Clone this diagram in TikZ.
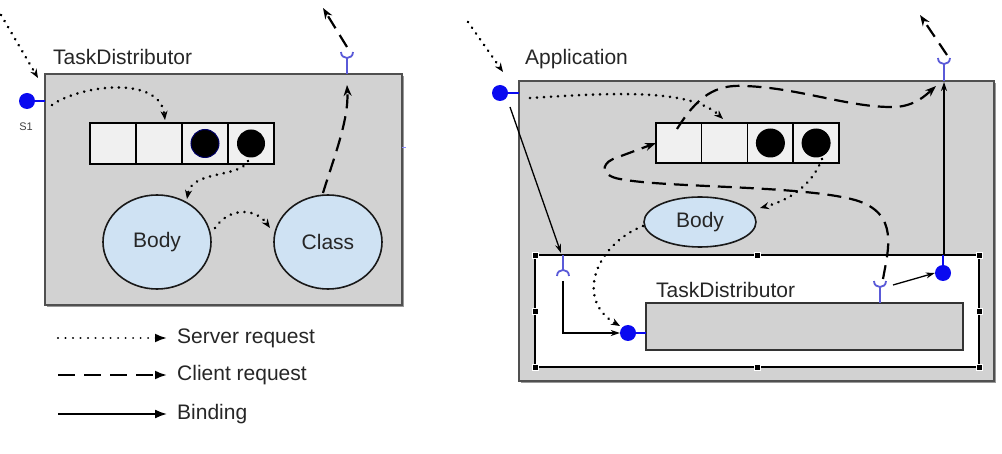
\documentclass[tikz,border=0pt]{standalone}
\usepackage{fontspec}
\setmainfont{Liberation Sans}
\usetikzlibrary{arrows.meta,shapes.geometric,calc}
\definecolor{boxgray}{HTML}{D2D2D2}
\definecolor{cellfill}{HTML}{F0F0F0}
\definecolor{bodyblue}{HTML}{CFE2F3}
\definecolor{portblue}{HTML}{0A0AF0}
\definecolor{cupblue}{HTML}{5A5AD8}
\definecolor{edgegray}{HTML}{505050}
\begin{document}
\begin{tikzpicture}[x=1pt,y=-1pt,
  lbl/.style={font=\fontsize{21}{25}\selectfont, text=black!85, inner sep=0pt},
  compbox/.style={rectangle, fill=boxgray, draw=edgegray, line width=1.3pt, inner sep=0pt, outer sep=0pt, anchor=north west},
  shadowbox/.style={fill=black!40, draw=none},
  cell/.style={rectangle, draw=black, line width=1.5pt, fill=cellfill, minimum width=46pt, minimum height=41pt, inner sep=0pt, outer sep=0pt},
  token/.style={circle, fill=black, minimum size=28pt, inner sep=0pt},
  actor/.style={ellipse, draw=black!90, line width=1.6pt, fill=bodyblue, inner sep=0pt, font=\fontsize{21}{25}\selectfont, text=black!85},
  srvport/.style={circle, fill=portblue, minimum size=16pt, inner sep=0pt},
  portstem/.style={draw=portblue, line width=2.2pt},
  cupline/.style={draw=cupblue, line width=1.8pt},
  handle/.style={rectangle, fill=black, draw=white, line width=0.6pt, minimum size=6pt, inner sep=0pt},
  srvreq/.style={line width=2.9pt, dash pattern=on 0.01pt off 7pt, line cap=round, -{Stealth[length=9pt,width=7pt,line cap=butt]}},
  clireq/.style={line width=2.2pt, dash pattern=on 14pt off 8pt, -{Stealth[length=11pt,width=8pt]}},
  bind/.style={line width=1.3pt, -{Stealth[length=9pt,width=6pt]}},
  legtip/.style={-{Latex[length=12pt,width=9pt]}},
]
\path[use as bounding box] (0,0) rectangle (1002,454);

% ================= LEFT: TaskDistributor =================
\fill[shadowbox] (47,76) rectangle (404,307);
\node[compbox, minimum width=357pt, minimum height=231pt] (td) at (45,74) {};
\node[lbl, anchor=west] (tdlbl) at (53,57) {TaskDistributor};
\draw[blue!45, line width=1pt] (402,148) -- (406,148);

\node[srvport] (s1) at (27,101) {};
\draw[portstem] (s1.east) -- (45,101);
\node[font=\fontsize{11}{12}\selectfont, text=black!75, inner sep=0pt] (s1lbl) at (26,127) {S1};

\node[cell] (q1) at (113,143.5) {};
\node[cell] (q2) at (159,143.5) {};
\node[cell] (q3) at (205,143.5) {};
\node[cell] (q4) at (251,143.5) {};
\node[token, draw=blue!40!black, line width=1pt] (t1) at (q3.center) {};
\node[token] (t2) at (q4.center) {};

\node[actor, minimum width=108pt, minimum height=94pt] (body) at (157,242) {Body};
\node[actor, minimum width=108pt, minimum height=94pt] (class) at (328,242) {Class};

% client port (cup)
\coordinate (cupL) at (347,58);
\draw[cupline] (341,52) .. controls (341,60) and (353,60) .. (353,52);
\draw[cupline] (cupL) -- (347,74);

\coordinate (inL) at (1,15);
\coordinate (inLend) at (38,78);
\draw[srvreq] (inL) -- (inLend);
\draw[srvreq] (52,105) .. controls (80,85) and (160,75) .. (165,120);
\draw[srvreq] (248,161) .. controls (240,178) and (192,170) .. (187,199);
\draw[srvreq] (215,228) .. controls (228,208) and (255,207) .. (270,228);
\draw[clireq] (323,193) .. controls (333,160) and (349,120) .. (347,85);
\coordinate (outL) at (323,8);
\draw[clireq] (347,47) -- (outL);

% ================= LEGEND =================
\coordinate (l1a) at (58,338); \coordinate (l1b) at (167,338);
\coordinate (l2a) at (58,375); \coordinate (l2b) at (167,375);
\coordinate (l3a) at (58,414); \coordinate (l3b) at (167,414);
\draw[line width=2.2pt, dash pattern=on 0.01pt off 7.5pt, line cap=round, legtip] (l1a) -- (l1b);
\draw[line width=2.2pt, dash pattern=on 17pt off 9pt, legtip] (l2a) -- (l2b);
\draw[line width=1.8pt, legtip] (l3a) -- (l3b);
\node[lbl, anchor=west] (leg1) at (177,338) {Server request};
\node[lbl, anchor=west] (leg2) at (177,375) {Client request};
\node[lbl, anchor=west] (leg3) at (177,414) {Binding};

% ================= RIGHT: Application =================
\fill[shadowbox] (521,83) rectangle (996,383);
\node[compbox, minimum width=475pt, minimum height=300pt] (app) at (519,81) {};
\node[lbl, anchor=west] (applbl) at (525,59) {Application};

\node[srvport] (ap) at (500,93) {};
\draw[portstem] (ap.east) -- (519,93);

\node[cell, minimum width=45.75pt, minimum height=40pt] (r1) at (678.9,143) {};
\node[cell, minimum width=45.75pt, minimum height=40pt] (r2) at (724.6,143) {};
\node[cell, minimum width=45.75pt, minimum height=40pt] (r3) at (770.4,143) {};
\node[cell, minimum width=45.75pt, minimum height=40pt] (r4) at (816.1,143) {};
\node[token, minimum size=29pt] (rt1) at (r3.center) {};
\node[token, minimum size=29pt] (rt2) at (r4.center) {};

\node[actor, minimum width=112pt, minimum height=50pt] (rbody) at (700,222) {Body};

% inner selected TaskDistributor
\node[rectangle, draw=black, line width=1.4pt, fill=white, anchor=north west, minimum width=444pt, minimum height=112pt, inner sep=0pt, outer sep=0pt] (frame) at (535,255) {};
\foreach \a in {north west,north,north east,west,east,south west,south,south east}
  \node[handle] at (frame.\a) {};
\node[compbox, draw=black!80, minimum width=317pt, minimum height=47pt] (itd) at (646,303) {};
\node[lbl, anchor=west] (itdlbl) at (656,290) {TaskDistributor};

\node[srvport] (isp) at (628,333) {};
\draw[portstem] (isp.east) -- (646,333);

% required port on frame (cap)
\coordinate (capR) at (563,270);
\draw[cupline] (557,276) .. controls (557,268) and (569,268) .. (569,276);
\draw[cupline] (capR) -- (563,255);

% inner client cup
\coordinate (icup) at (880,287);
\draw[cupline] (874,281) .. controls (874,289) and (886,289) .. (886,281);
\draw[cupline] (icup) -- (880,303);

% inner right server port
\node[srvport] (rsp) at (943,273) {};
\draw[portstem] (rsp.north) -- (943,255);

% app client cup
\coordinate (acup) at (944,64);
\draw[cupline] (938,58) .. controls (938,66) and (950,66) .. (950,58);
\draw[cupline] (acup) -- (944,81);

% bindings
\draw[bind] (510,107) -- (561,253);
\draw[bind] (563,281) |- (isp.west);
\draw[bind] (893,285) -- (rsp.west);
\draw[bind] (944,255) -- (944,82);

% server requests
\coordinate (inR) at (468,22);
\draw[srvreq] (inR) -- (503,72);
\draw[srvreq] (530,98) .. controls (610,93) and (690,88) .. (723,119);
\draw[srvreq] (822,159) .. controls (812,185) and (790,200) .. (760,208);
\draw[srvreq] (643,226) .. controls (595,245) and (575,300) .. (620,326);

% client requests
\draw[clireq] (677,129) .. controls (697,97) and (715,84) .. (745,86)
   .. controls (800,88) and (850,108) .. (895,107)
   .. controls (915,106) and (926,95) .. (936,86);
\draw[clireq] (883,279) .. controls (888,250) and (900,213) .. (855,200)
   .. controls (800,185) and (665,188) .. (620,179)
   .. controls (602,176) and (600,165) .. (613,159) -- (r1.west);
\coordinate (outR) at (920,15);
\draw[clireq] (947,55) -- (outR);
\end{tikzpicture}
\end{document}
